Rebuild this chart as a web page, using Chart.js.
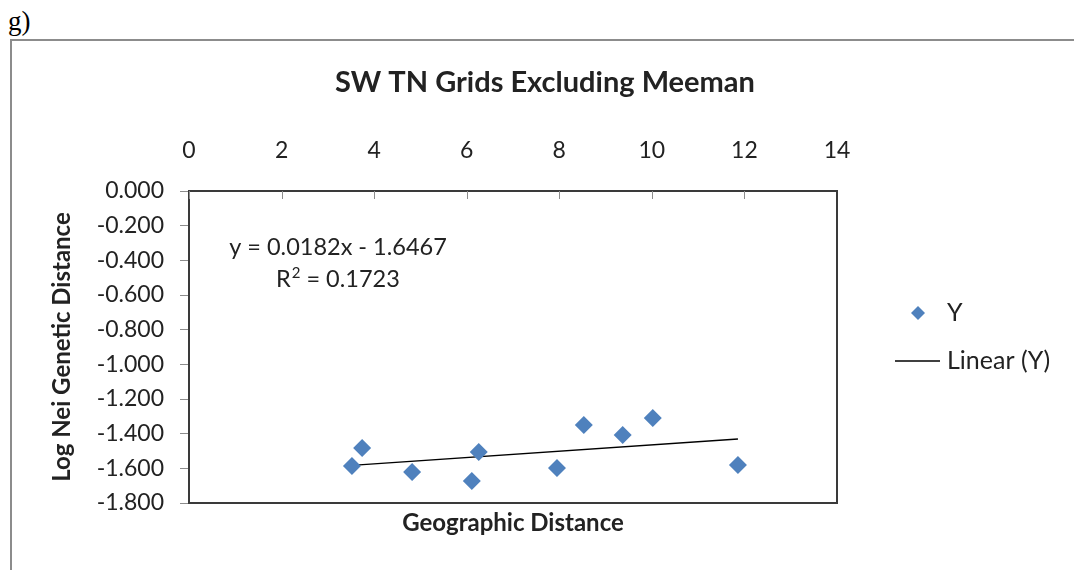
<!DOCTYPE html>
<html lang="en">
<head>
    <meta charset="UTF-8">
    <title>SW TN Grids Excluding Meeman</title>
    <script src="https://cdn.jsdelivr.net/npm/chart.js"></script>
    <style>
        body { margin: 0; background: #fff; }
        .moldura {
            position: absolute; left: 10px; top: 39px; width: 1100px; height: 600px;
            border-top: 2px solid #8c8c8c; border-left: 2px solid #8c8c8c;
        }
        .letra {
            position: absolute; left: 8px; top: 6px;
            font-family: "Liberation Serif", serif; font-size: 27px; color: #000;
        }
        .grafico { position: absolute; left: 0; top: 0; width: 1074px; height: 570px; }
    </style>
</head>
<body>
    <div class="letra">g)</div>
    <div class="moldura"></div>
    <div class="grafico">
        <canvas id="chartGrids"></canvas>
    </div>

<script>
// dados
const geoDistance = [3.52, 3.74, 4.82, 6.11, 6.26, 7.95, 8.53, 9.37, 10.02, 11.86];
const logNei = [-1.587, -1.483, -1.621, -1.673, -1.506, -1.598, -1.350, -1.408, -1.310, -1.581];

// linha de tendencia (equacao do proprio grafico)
const slope = 0.0182;
const intercept = -1.6467;
const trendX = [Math.min(...geoDistance), Math.max(...geoDistance)];

const fonte = 'Lato';
const corTexto = '#222';

const pontos = geoDistance.map((x, i) => ({ x: x, y: logNei[i] }));
const tendencia = trendX.map(x => ({ x: x, y: slope * x + intercept }));

// titulo, caixa, ticks para dentro, equacao e legenda
const extras = {
    id: 'extras',
    afterDraw(chart) {
        const ctx = chart.ctx;
        const a = chart.chartArea;
        const sx = chart.scales.x;
        ctx.save();

        // titulo
        ctx.fillStyle = corTexto;
        ctx.font = 'bold 29px ' + fonte;
        ctx.textAlign = 'center';
        ctx.textBaseline = 'middle';
        ctx.fillText('SW TN Grids Excluding Meeman', 545, 83);

        // ticks do eixo de cima (para dentro)
        ctx.strokeStyle = '#8c8c8c';
        ctx.lineWidth = 1;
        sx.ticks.forEach(t => {
            const px = Math.round(sx.getPixelForValue(t.value)) + 0.5;
            ctx.beginPath();
            ctx.moveTo(px, a.top);
            ctx.lineTo(px, a.top + 8);
            ctx.stroke();
        });

        // lados direito e de baixo
        ctx.strokeStyle = '#3a3a3a';
        ctx.lineWidth = 2;
        ctx.beginPath();
        ctx.moveTo(a.left, a.bottom);
        ctx.lineTo(a.right, a.bottom);
        ctx.lineTo(a.right, a.top);
        ctx.stroke();

        // equacao
        ctx.font = '23.5px ' + fonte;
        ctx.fillText('y = 0.0182x - 1.6467', a.left + 149, a.top + 56);
        ctx.textAlign = 'left';
        const rx = a.left + 87;
        const ry = a.top + 88;
        ctx.fillText('R', rx, ry);
        const wR = ctx.measureText('R').width;
        ctx.font = '15px ' + fonte;
        ctx.fillText('2', rx + wR + 1, ry - 6);
        const w2 = ctx.measureText('2').width;
        ctx.font = '23.5px ' + fonte;
        ctx.fillText(' = 0.1723', rx + wR + w2 + 1, ry);

        // legenda
        const lx = a.right + 81;
        ctx.fillStyle = '#4F81BD';
        ctx.beginPath();
        ctx.moveTo(lx, 306);
        ctx.lineTo(lx + 7, 313);
        ctx.lineTo(lx, 320);
        ctx.lineTo(lx - 7, 313);
        ctx.closePath();
        ctx.fill();

        ctx.strokeStyle = '#000';
        ctx.lineWidth = 1.3;
        ctx.beginPath();
        ctx.moveTo(a.right + 58, 361);
        ctx.lineTo(a.right + 103, 361);
        ctx.stroke();

        ctx.fillStyle = corTexto;
        ctx.font = '25px ' + fonte;
        ctx.fillText('Y', a.right + 110, 313);
        ctx.fillText('Linear (Y)', a.right + 110, 361);
        ctx.restore();
    }
};

const config = {
    type: 'scatter',
    data: {
        datasets: [
            {
                label: 'Y',
                data: pontos,
                pointStyle: 'rectRot',
                pointRadius: 9,
                pointHoverRadius: 9,
                backgroundColor: '#4F81BD',
                borderColor: '#4F81BD',
                borderWidth: 0
            },
            {
                label: 'Linear (Y)',
                data: tendencia,
                showLine: true,
                borderColor: '#000',
                borderWidth: 1.3,
                pointRadius: 0
            }
        ]
    },
    options: {
        responsive: true,
        maintainAspectRatio: false,
        animation: false,
        layout: {
            padding: { left: 0, right: 237, top: 0, bottom: 0 }
        },
        plugins: {
            legend: { display: false },
            tooltip: { enabled: false },
            title: { display: false }
        },
        scales: {
            x: {
                type: 'linear',
                position: 'top',
                min: 0,
                max: 14,
                ticks: {
                    stepSize: 2,
                    color: corTexto,
                    padding: 27,
                    font: { family: fonte, size: 23 }
                },
                grid: { drawOnChartArea: false, drawTicks: false },
                border: { display: true, color: '#3a3a3a', width: 2 },
                afterFit(scale) { scale.height = 191; }
            },
            x2: {
                type: 'linear',
                position: 'bottom',
                ticks: { display: false },
                grid: { display: false },
                border: { display: false },
                title: {
                    display: true,
                    text: 'Geographic Distance',
                    color: corTexto,
                    font: { family: fonte, size: 24, weight: 'bold', lineHeight: 1.2 },
                    padding: { top: 0, bottom: 32 }
                },
                afterFit(scale) { scale.height = 67; }
            },
            y: {
                min: -1.8,
                max: 0,
                ticks: {
                    stepSize: 0.2,
                    color: corTexto,
                    padding: 16,
                    font: { family: fonte, size: 23 },
                    callback: v => v.toFixed(3)
                },
                grid: { drawOnChartArea: false, tickLength: 9, color: '#8c8c8c' },
                border: { display: true, color: '#3a3a3a', width: 2 },
                title: {
                    display: true,
                    text: 'Log Nei Genetic Distance',
                    color: corTexto,
                    font: { family: fonte, size: 24, weight: 'bold', lineHeight: 1.2 },
                    padding: { top: 48, bottom: 0 }
                },
                afterFit(scale) { scale.width = 189; }
            }
        }
    },
    plugins: [extras]
};

const myChart = new Chart(document.getElementById('chartGrids'), config);
</script>
</body>
</html>
